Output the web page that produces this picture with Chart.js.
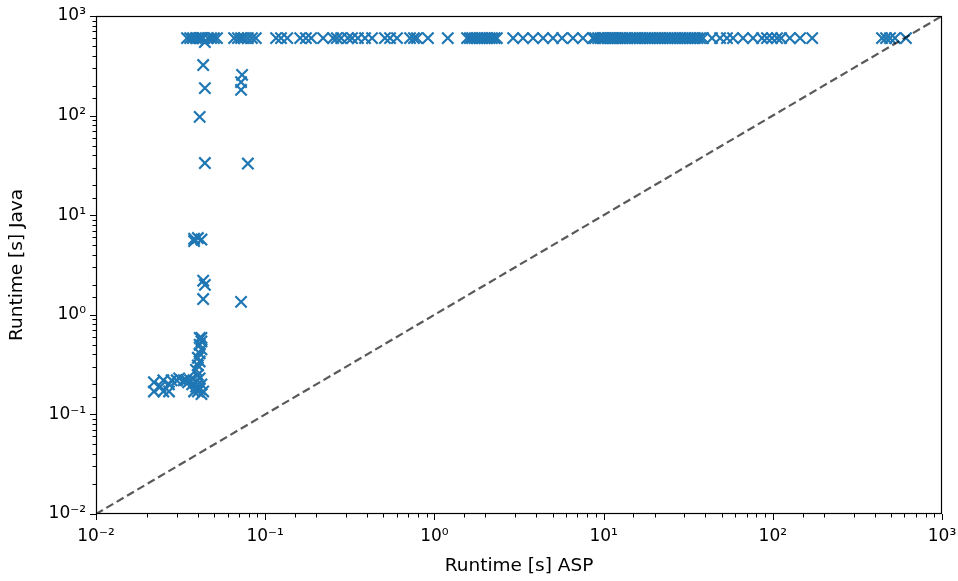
<!DOCTYPE html>
<html>
<head>
<meta charset="utf-8">
<script src="https://cdn.jsdelivr.net/npm/chart.js@4/dist/chart.umd.min.js"></script>
<style>
  html, body { margin: 0; padding: 0; background: #fff; }
  #wrap { width: 958px; height: 581px; }
</style>
</head>
<body>
<div id="wrap"><canvas id="runtimeChart"></canvas></div>
<script>
// Runtime ASP vs Java (600 s = timeout)
const aspTimes = [
  // timeouts of the Java run
  0.0345, 0.036, 0.0374, 0.039, 0.0406, 0.0415, 0.0423, 0.043, 0.044, 0.0459, 0.0479, 0.0498, 0.0519,
  0.0655, 0.069, 0.072, 0.075, 0.079, 0.0835, 0.088,
  0.116, 0.124, 0.135, 0.161, 0.174, 0.187, 0.22, 0.252, 0.265, 0.281, 0.308, 0.326, 0.353, 0.389, 0.428,
  0.51, 0.547, 0.601, 0.718, 0.757, 0.789, 0.916, 1.20, 1.56, 1.67, 1.79, 1.91, 2.05, 2.19, 2.34,
  1.62, 1.73, 1.85, 1.98, 2.12, 2.27,
  2.92, 3.34, 3.83, 4.39, 5.02, 5.68, 6.59, 7.55, 8.65, 9.27, 9.91, 10.6, 11.2, 11.8, 12.5, 13.4,
  14.3, 15.3, 16.4, 17.6, 18.8, 20.1, 21.5, 23.1, 24.7, 26.4, 28.3, 30.3, 32.4, 34.7, 37.2, 38.7,
  8.9, 9.6, 10.2, 10.9, 11.5, 12.1, 12.9, 13.8, 14.8, 15.8, 17.0, 18.2, 19.4, 20.8, 22.3, 23.9,
  25.5, 27.3, 29.3, 31.3, 33.5, 35.9,
  43.7, 48.8, 53.6, 58.2, 66.7, 76.4, 86.3, 92.4, 98.9, 106, 112, 126, 145, 171,
  442, 467, 493, 527, 612,
  // first column
  0.043, 0.044, 0.041, 0.044, 0.038, 0.038, 0.040, 0.042, 0.043, 0.044, 0.043, 0.042,
  // second column
  0.073, 0.072, 0.072, 0.079, 0.072,
  // small instances
  0.022, 0.022, 0.024, 0.025, 0.025, 0.027, 0.027, 0.028, 0.030, 0.031, 0.033, 0.034, 0.035, 0.036, 0.037,
  0.038, 0.039, 0.040, 0.041, 0.042, 0.043, 0.039, 0.041, 0.042, 0.040, 0.039, 0.040, 0.041, 0.040,
  0.041, 0.042, 0.041, 0.042, 0.041
];
const javaTimes = [
  600, 600, 600, 600, 600, 600, 600, 600, 548, 600, 600, 600, 600,
  600, 600, 600, 600, 600, 600, 600,
  600, 600, 600, 600, 600, 600, 600, 600, 600, 600, 600, 600, 600, 600, 600,
  600, 600, 600, 600, 600, 600, 600, 600, 600, 600, 600, 600, 600, 600, 600,
  600, 600, 600, 600, 600, 600,
  600, 600, 600, 600, 600, 600, 600, 600, 600, 600, 600, 600, 600, 600, 600, 600,
  600, 600, 600, 600, 600, 600, 600, 600, 600, 600, 600, 600, 600, 600, 600, 600,
  600, 600, 600, 600, 600, 600, 600, 600, 600, 600, 600, 600, 600, 600, 600, 600,
  600, 600, 600, 600, 600, 600,
  600, 600, 600, 600, 600, 600, 600, 600, 600, 600, 600, 600, 600, 600,
  600, 600, 600, 600, 600,
  322, 189, 97, 33.4, 5.5, 5.8, 5.9, 5.7, 2.2, 2.0, 1.44, 0.585,
  256, 217, 181, 33, 1.35,
  0.17, 0.21, 0.19, 0.17, 0.22, 0.17, 0.20, 0.22, 0.22, 0.23, 0.22, 0.22, 0.21, 0.22, 0.20,
  0.17, 0.19, 0.17, 0.18, 0.16, 0.17, 0.21, 0.23, 0.20, 0.25, 0.28, 0.31, 0.34, 0.37,
  0.41, 0.45, 0.50, 0.54, 0.585
];
const diagonal = [0.01, 1000];
const tickExponents = [-2, -1, 0, 1, 2, 3];
const tickLabels = ['10\u207B\u00B2', '10\u207B\u00B9', '10\u2070', '10\u00B9', '10\u00B2', '10\u00B3'];

const FONT = 'DejaVu Sans';

function powLabel(v) {
  const e = Math.log10(v);
  const r = Math.round(e);
  if (Math.abs(e - r) > 1e-6) return '';
  const i = tickExponents.indexOf(r);
  return i >= 0 ? tickLabels[i] : '';
}

// ticks drawn by hand: major/minor length, pointing out, plus the full frame
const frameTicks = {
  id: 'frameTicks',
  afterDraw(chart) {
    const c = chart.ctx, a = chart.chartArea;
    c.save();
    c.strokeStyle = '#000';
    c.lineWidth = 1.2;
    c.strokeRect(a.left + 0.5, a.top + 0.5, a.right - a.left - 1, a.bottom - a.top - 1);
    c.lineWidth = 1;
    ['x', 'y'].forEach(id => {
      const s = chart.scales[id];
      s.ticks.forEach(t => {
        const major = powLabel(t.value) !== '';
        const len = major ? 6 : 3.5;
        const p = Math.round(s.getPixelForValue(t.value)) + 0.5;
        c.beginPath();
        if (id === 'x') { c.moveTo(p, a.bottom); c.lineTo(p, a.bottom + len); }
        else { c.moveTo(a.left, p); c.lineTo(a.left - len, p); }
        c.stroke();
      });
    });
    c.restore();
  }
};

const points = aspTimes.map((x, i) => ({ x: x, y: javaTimes[i] }));

new Chart(document.getElementById('runtimeChart'), {
  type: 'scatter',
  data: {
    datasets: [
      {
        type: 'line',
        data: diagonal.map(v => ({ x: v, y: v })),
        borderColor: 'rgba(0,0,0,0.65)',
        borderWidth: 2.2,
        borderDash: [8, 4],
        pointRadius: 0,
        fill: false,
        order: 0
      },
      {
        data: points,
        pointStyle: 'crossRot',
        pointRadius: 8,
        borderColor: '#1f77b4',
        backgroundColor: '#1f77b4',
        pointBorderWidth: 2.2,
        order: 1
      }
    ]
  },
  options: {
    responsive: true,
    maintainAspectRatio: false,
    animation: false,
    events: [],
    layout: { padding: { top: 16, right: 16, left: 0, bottom: 0 } },
    plugins: { legend: { display: false }, tooltip: { enabled: false } },
    scales: {
      x: {
        type: 'logarithmic',
        min: 0.01, max: 1000,
        grid: { display: false, drawTicks: false },
        border: { display: false },
        ticks: {
          autoSkip: false, maxRotation: 0, padding: 12,
          color: '#000', font: { family: FONT, size: 17 },
          callback: v => powLabel(v)
        },
        title: { display: true, text: 'Runtime [s] ASP', color: '#000',
                 font: { family: FONT, size: 18.5 }, padding: { top: 0 } },
        afterFit: s => { s.height = 67; s.paddingLeft = 0; s.paddingRight = 0; }
      },
      y: {
        type: 'logarithmic',
        min: 0.01, max: 1000,
        grid: { display: false, drawTicks: false },
        border: { display: false },
        ticks: {
          autoSkip: false, padding: 10,
          color: '#000', font: { family: FONT, size: 17 },
          callback: v => powLabel(v)
        },
        title: { display: true, text: 'Runtime [s] Java', color: '#000',
                 font: { family: FONT, size: 18.5 }, padding: { top: 6, bottom: 0 } },
        afterFit: s => { s.width = 96; s.paddingTop = 0; s.paddingBottom = 0; }
      }
    }
  },
  plugins: [frameTicks]
});
</script>
</body>
</html>
